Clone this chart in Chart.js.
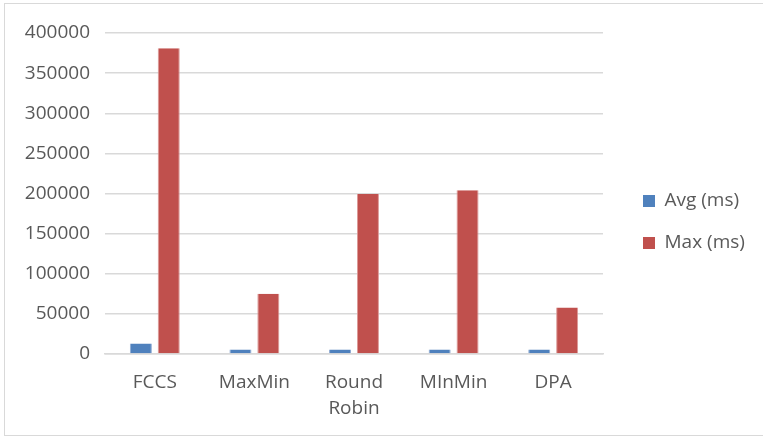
<!DOCTYPE html>
<html>
<head>
<meta charset="utf-8">
<script src="https://cdn.jsdelivr.net/npm/chart.js@4"></script>
<style>
  html, body { margin: 0; padding: 0; background: #fff; }
  #frame {
    position: absolute; left: 4px; top: 3px;
    width: 760px; height: 433px;
    border: 1px solid #D9D9D9; box-sizing: border-box;
  }
  #frame canvas { position: absolute; left: 0; top: 0; }
</style>
</head>
<body>
<div id="frame"><canvas id="c" width="758" height="431"></canvas></div>
<script>
// Response times per scheduling algorithm
const categories = ["FCCS", "MaxMin", ["Round", "Robin"], "MInMin", "DPA"];
const avgMs = [13000, 5500, 5500, 5500, 5500];
const maxMs = [381000, 75000, 199500, 204000, 58000];
const yTicks = [0, 50000, 100000, 150000, 200000, 250000, 300000, 350000, 400000];

const FONT = "'Open Sans', 'Liberation Sans', sans-serif";
const TEXT = "#595959";

// Legend panel: fixed width, items placed a little further right and up
const legendPanel = {
  id: "legendPanel",
  beforeLayout(chart) {
    const lg = chart.legend;
    if (lg && !lg._fixedFit) {
      const fit = lg.fit.bind(lg);
      lg.fit = function () { fit(); this.width = 160; };
      lg._fixedFit = true;
    }
  },
  afterLayout(chart) {
    const lg = chart.legend;
    if (!lg) return;
    lg.left += 17; lg.right += 17;
    lg.top -= 12; lg.bottom -= 12;
  }
};

const sideEdges = { left: 1, right: 1, top: 0, bottom: 0 };

new Chart(document.getElementById("c"), {
  type: "bar",
  data: {
    labels: categories,
    datasets: [
      { label: "Avg (ms)", data: avgMs, backgroundColor: "#4F81BD",
        borderColor: "#8EAAD3", borderWidth: sideEdges,
        categoryPercentage: 0.56, barPercentage: 0.79 },
      { label: "Max (ms)", data: maxMs, backgroundColor: "#C0504D",
        borderColor: "#DC9997", borderWidth: sideEdges,
        categoryPercentage: 0.56, barPercentage: 0.79 }
    ]
  },
  plugins: [legendPanel],
  options: {
    responsive: false,
    animation: false,
    layout: { padding: { top: 29, left: 0, right: 0, bottom: 0 } },
    plugins: {
      tooltip: { enabled: false },
      legend: {
        position: "right",
        labels: {
          boxWidth: 12, boxHeight: 12, padding: 23,
          color: TEXT, font: { family: FONT, size: 19 },
          generateLabels(chart) {
            return chart.data.datasets.map((ds, i) => ({
              text: ds.label, fillStyle: ds.backgroundColor, strokeStyle: ds.backgroundColor,
              lineWidth: 0, fontColor: TEXT, datasetIndex: i, hidden: false
            }));
          }
        }
      }
    },
    scales: {
      x: {
        grid: { display: false },
        border: { color: "#D9D9D9", width: 1.5 },
        ticks: { color: TEXT, font: { family: FONT, size: 19, lineHeight: 1.35 }, padding: 8, maxRotation: 0 },
        afterFit(s) { s.height = 81; }
      },
      y: {
        min: 0, max: 400000,
        afterBuildTicks(s) { s.ticks = yTicks.map(v => ({ value: v })); },
        grid: { color: "#D9D9D9", lineWidth: 1.5, drawTicks: false },
        border: { display: false },
        ticks: { color: TEXT, font: { family: FONT, size: 19 }, padding: 15,
                 callback: v => String(v) },
        afterFit(s) { s.width = 100; }
      }
    }
  }
});
</script>
</body>
</html>
